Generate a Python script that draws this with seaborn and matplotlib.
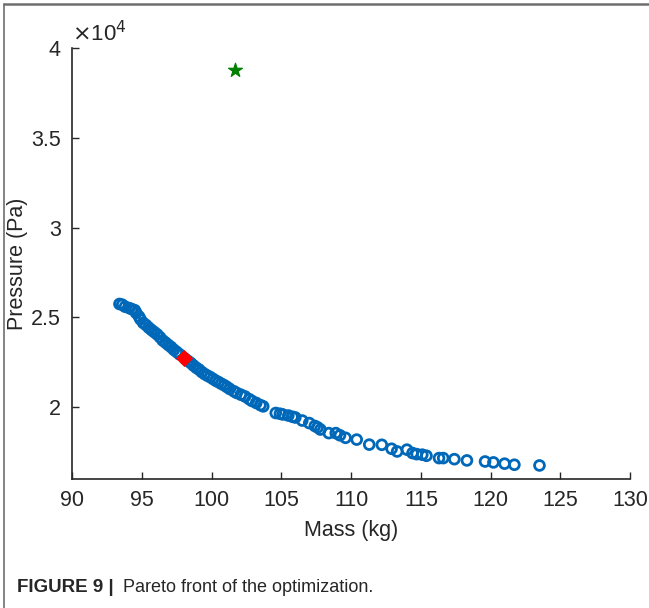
import numpy as np
import matplotlib
matplotlib.use("Agg")
import matplotlib.pyplot as plt
from matplotlib.lines import Line2D
import seaborn as sns

# Pareto front points
mass = [93.4, 93.6, 93.8, 94.1, 94.3, 94.5, 94.6, 94.8, 94.9, 95.1, 95.3, 95.5,
        95.7, 95.9, 96.1, 96.3, 96.5, 96.7, 96.9, 97.1, 97.3, 97.5, 97.7, 98.1,
        98.3, 98.5, 98.7, 98.9, 99.1, 99.3, 99.5, 99.7, 99.9, 100.1, 100.3, 100.5,
        100.7, 100.9, 101.1, 101.3, 101.6, 101.8, 102.1, 102.4, 102.7, 102.9, 103.2,
        103.5, 103.7, 104.6, 104.9, 105.1, 105.5, 105.8, 106.0, 106.5, 107.0, 107.4,
        107.6, 107.8, 108.4, 108.9, 109.2, 109.6, 110.4, 111.3, 112.2, 112.9, 113.3,
        114.0, 114.4, 114.7, 115.1, 115.4, 116.3, 116.6, 117.4, 118.3, 119.6, 120.2,
        121.0, 121.7, 123.5]
pressure = [25750, 25710, 25600, 25520, 25460, 25400, 25250, 25050, 24900, 24700,
            24580, 24430, 24300, 24180, 24060, 23900, 23720, 23600, 23470, 23350,
            23200, 23080, 22950, 22700, 22580, 22470, 22330, 22200, 22100, 21960,
            21850, 21760, 21680, 21580, 21480, 21400, 21310, 21230, 21130, 21020,
            20890, 20800, 20700, 20600, 20450, 20350, 20240, 20120, 20050, 19680,
            19640, 19600, 19540, 19470, 19430, 19260, 19120, 18960, 18880, 18760,
            18560, 18560, 18440, 18300, 18200, 17920, 17910, 17690, 17540, 17640,
            17450, 17390, 17360, 17300, 17170, 17170, 17110, 17040, 16980, 16930,
            16860, 16800, 16760]

chosen_mass = [98.0]
chosen_pressure = [22755]
ideal_mass = [101.7]
ideal_pressure = [38770]

x_ticks = [90, 95, 100, 105, 110, 115, 120, 125, 130]
y_ticks = [20000, 25000, 30000, 35000, 40000]

sns.set_style("ticks")
plt.rcParams["font.family"] = ["Liberation Sans", "DejaVu Sans"]

fig = plt.figure(figsize=(6.49, 6.08), dpi=100)
ax = fig.add_axes([0.111, 0.212, 0.860, 0.709])

sns.scatterplot(x=mass, y=pressure, ax=ax, marker="o", s=50,
                facecolors="none", edgecolor="#0068B8", linewidth=2.0)
sns.scatterplot(x=chosen_mass, y=chosen_pressure, ax=ax, marker="D", s=65,
                color="#FF0000", edgecolor="#FF0000")
sns.scatterplot(x=ideal_mass, y=ideal_pressure, ax=ax, marker="*", s=110,
                color="#007F00", edgecolor="#007F00")

ax.set_xlim(90, 130)
ax.set_ylim(16000, 40000)
ax.set_xticks(x_ticks)
ax.set_xticklabels([str(t) for t in x_ticks])
ax.set_yticks(y_ticks)
ax.set_yticklabels(["%g" % (t / 1e4) for t in y_ticks])
ax.tick_params(direction="in", length=5, width=1, labelsize=15.5, pad=8)
sns.despine(ax=ax)
for sp in ["left", "bottom"]:
    ax.spines[sp].set_linewidth(1.2)
ax.set_xlabel("Mass (kg)", fontsize=15.5, labelpad=6)
ax.set_ylabel("Pressure (Pa)", fontsize=15.5)
ax.yaxis.set_label_coords(-0.079, 0.5)
ax.text(0.0, 1.005, r"$\times$10$^{4}$", transform=ax.transAxes,
        fontsize=16, ha="left", va="bottom")

# frame lines of the figure panel
fig.add_artist(Line2D([4 / 649, 1], [1 - 4 / 608, 1 - 4 / 608],
                      color="#6e6e6e", lw=1.8, transform=fig.transFigure))
fig.add_artist(Line2D([4 / 649, 4 / 649], [0, 1 - 4 / 608],
                      color="#6e6e6e", lw=1.2, transform=fig.transFigure))

fig.text(17 / 649, 1 - 588 / 608, "FIGURE 9 |", fontsize=13.5,
         fontweight="bold", ha="left", va="center")
fig.text(123 / 649, 1 - 588 / 608, "Pareto front of the optimization.",
         fontsize=13, ha="left", va="center")

fig.savefig("out.png", dpi=100)
